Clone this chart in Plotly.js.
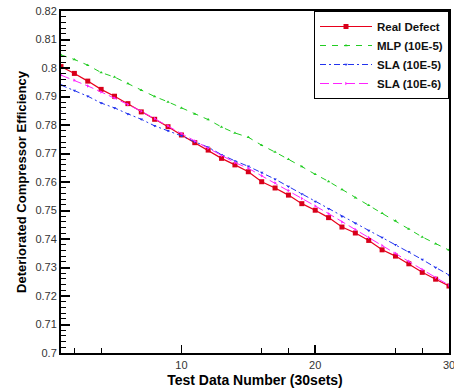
<!DOCTYPE html>
<html>
<head>
<meta charset="utf-8">
<script src="https://cdn.plot.ly/plotly-3.0.1.min.js"></script>
<style>html,body{margin:0;padding:0;background:#fff;}#chart{width:454px;height:388px;}</style>
</head>
<body>
<div id="chart"></div>
<script>
const testNumber = [1,2,3,4,5,6,7,8,9,10,11,12,13,14,15,16,17,18,19,20,21,22,23,24,25,26,27,28,29,30];
const realDefect = [0.8005,0.7981,0.7954,0.7925,0.7901,0.7875,0.7846,0.7820,0.7794,0.7765,0.7738,0.7712,0.7683,0.7660,0.7636,0.7601,0.7579,0.7554,0.7524,0.7501,0.7475,0.7442,0.7421,0.7395,0.7362,0.7340,0.7313,0.7283,0.7259,0.7235];
const mlp = [0.8046,0.8030,0.8010,0.7984,0.7968,0.7946,0.7922,0.7900,0.7881,0.7860,0.7839,0.7819,0.7793,0.7772,0.7757,0.7729,0.7705,0.7680,0.7654,0.7627,0.7602,0.7574,0.7545,0.7518,0.7490,0.7464,0.7435,0.7407,0.7383,0.7361];
const sla5 = [0.7940,0.7921,0.7901,0.7877,0.7860,0.7839,0.7820,0.7797,0.7780,0.7762,0.7741,0.7722,0.7696,0.7674,0.7655,0.7633,0.7610,0.7584,0.7558,0.7532,0.7506,0.7479,0.7455,0.7430,0.7405,0.7380,0.7355,0.7328,0.7300,0.7274];
const sla6 = [0.7975,0.7957,0.7937,0.7916,0.7895,0.7872,0.7848,0.7823,0.7797,0.7770,0.7744,0.7718,0.7692,0.7668,0.7648,0.7622,0.7597,0.7570,0.7542,0.7516,0.7489,0.7460,0.7433,0.7405,0.7377,0.7350,0.7322,0.7293,0.7265,0.7238];
const seriesNames = ["Real Defect","MLP (10E-5)","SLA (10E-5)","SLA (10E-6)"];
const yTickVals = [0.70,0.71,0.72,0.73,0.74,0.75,0.76,0.77,0.78,0.79,0.80,0.81,0.82];
const yTickText = ["0.7","0.71","0.72","0.73","0.74","0.75","0.76","0.77","0.78","0.79","0.8","0.81","0.82"];
const xTickVals = [10,20,30];
const xTickText = ["10","20","30"];
const xMinorVals = [2,4,16,18,26,28];

const traces = [
  {x:testNumber, y:realDefect, name:seriesNames[0], mode:"lines+markers",
   line:{color:"#e8001c", width:1.2}, marker:{symbol:"square", size:5, color:"#d8001a"}},
  {x:testNumber, y:mlp, name:seriesNames[1], mode:"lines+markers",
   line:{color:"#22cc22", width:1, dash:"6px,6px"}, marker:{symbol:"triangle-up", size:3, color:"#22cc22"}},
  {x:testNumber, y:sla5, name:seriesNames[2], mode:"lines+markers",
   line:{color:"#2233ee", width:1, dash:"6px,3px,2px,3px"}, marker:{symbol:"triangle-down", size:3, color:"#2233ee"}},
  {x:testNumber, y:sla6, name:seriesNames[3], mode:"lines+markers",
   line:{color:"#ff22ff", width:1, dash:"9px,4px"}, marker:{symbol:"triangle-right", size:3, color:"#ff22ff"}}
];

const layout = {
  width:454, height:388,
  margin:{l:61, r:5, t:11, b:35},
  paper_bgcolor:"#fff", plot_bgcolor:"#fff",
  font:{family:"Liberation Sans, Arial, sans-serif", color:"#222"},
  showlegend:true,
  legend:{x:1, xanchor:"right", y:1, yanchor:"top", bgcolor:"#fff", bordercolor:"#000", borderwidth:1,
          font:{size:11.5, family:"Liberation Sans, Arial, sans-serif", color:"#111", weight:"bold"},
          tracegroupgap:0, itemwidth:52},
  xaxis:{range:[1,30], showgrid:false, zeroline:false, showline:true, linecolor:"#000", linewidth:2, mirror:true,
         tickmode:"array", tickvals:xTickVals, ticktext:xTickText, ticks:"inside", ticklen:8, tickwidth:1.5, tickcolor:"#000",
         tickfont:{size:11, color:"#333"}, ticklabeloverflow:"allow", ticklabelstandoff:1,
         minor:{tickmode:"array", tickvals:xMinorVals, ticks:"inside", ticklen:5, tickwidth:1, tickcolor:"#000"},
         title:{text:"Test Data Number (30sets)", font:{size:14, weight:"bold", color:"#000"}}},
  yaxis:{range:[0.70,0.82], showgrid:false, zeroline:false, showline:true, linecolor:"#000", linewidth:2, mirror:true,
         tickmode:"array", tickvals:yTickVals, ticktext:yTickText, ticks:"inside", ticklen:9, tickwidth:2, tickcolor:"#000",
         tickfont:{size:11, color:"#333"},
         minor:{dtick:0.002, ticks:"inside", ticklen:5, tickwidth:1, tickcolor:"#000"},
         title:{text:"Deteriorated Compressor Efficiency", font:{size:13, weight:"bold", color:"#000"}, standoff:6}}
};

Plotly.newPlot("chart", traces, layout, {displayModeBar:false, staticPlot:true});
</script>
</body>
</html>
